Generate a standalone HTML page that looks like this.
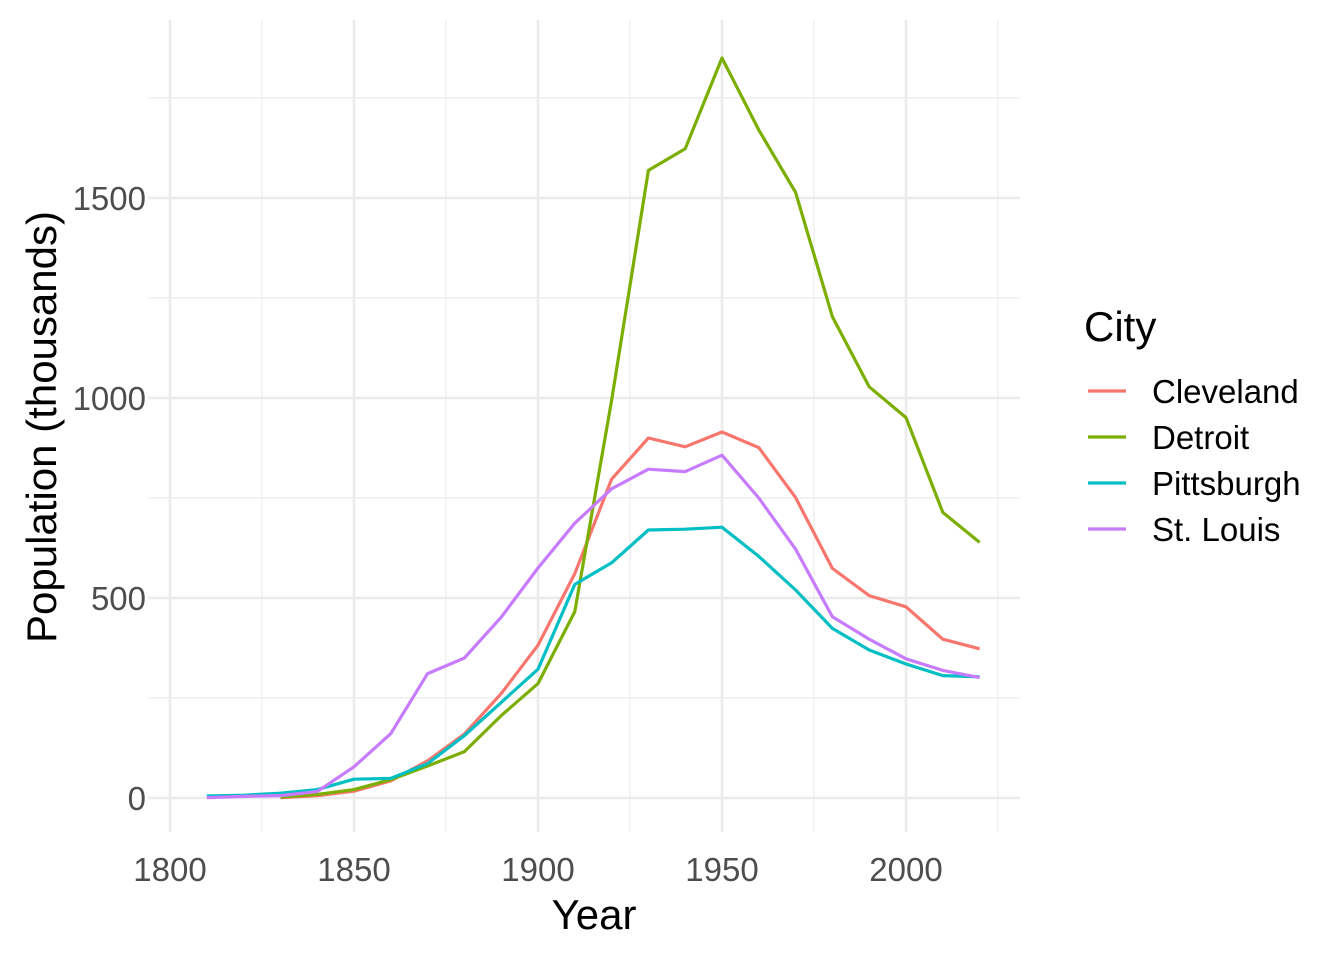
<!DOCTYPE html>
<html><head><style>body{margin:0;background:#fff}svg{display:block}text{font-family:"Liberation Sans",Arial,sans-serif}</style></head>
<body>
<svg width="1344" height="960" xmlns="http://www.w3.org/2000/svg">
<g stroke="#ebebeb" stroke-width="1.2">
<line x1="262" y1="20" x2="262" y2="832"/><line x1="446" y1="20" x2="446" y2="832"/><line x1="630" y1="20" x2="630" y2="832"/><line x1="814" y1="20" x2="814" y2="832"/><line x1="998" y1="20" x2="998" y2="832"/>
<line x1="148" y1="698" x2="1020" y2="698"/><line x1="148" y1="498" x2="1020" y2="498"/><line x1="148" y1="298" x2="1020" y2="298"/><line x1="148" y1="98" x2="1020" y2="98"/>
</g>
<g stroke="#ebebeb" stroke-width="2.6">
<line x1="170" y1="20" x2="170" y2="832"/><line x1="354" y1="20" x2="354" y2="832"/><line x1="538" y1="20" x2="538" y2="832"/><line x1="722" y1="20" x2="722" y2="832"/><line x1="906" y1="20" x2="906" y2="832"/>
<line x1="148" y1="798" x2="1020" y2="798"/><line x1="148" y1="598" x2="1020" y2="598"/><line x1="148" y1="398" x2="1020" y2="398"/><line x1="148" y1="198" x2="1020" y2="198"/>
</g>
<g fill="none" stroke-width="3.2" stroke-linejoin="round">
<polyline stroke="#F8766D" points="280.4,797.6 317.2,795.6 354,791.2 390.8,780.8 427.6,760.8 464.4,734 501.2,693.6 538,645.2 574.8,573.6 611.6,479.2 648.4,438 685.2,446.8 722,432 758.8,447.6 795.6,497.6 832.4,568.4 869.2,595.6 906,606.8 942.8,639.2 979.6,648.8"/>
<polyline stroke="#7CAE00" points="280.4,797.2 317.2,794.4 354,789.6 390.8,779.6 427.6,766 464.4,751.6 501.2,715.6 538,683.6 574.8,611.6 611.6,400.4 648.4,170.4 685.2,148.8 722,58 758.8,130 795.6,192.4 832.4,316.8 869.2,386.8 906,417.6 942.8,512.4 979.6,542.4"/>
<polyline stroke="#00BFC4" points="206.8,796 243.6,795.2 280.4,793.2 317.2,789.6 354,779.2 390.8,778.4 427.6,763.6 464.4,735.6 501.2,702.4 538,669.2 574.8,584.4 611.6,562.8 648.4,530 685.2,529.2 722,527.2 758.8,556.4 795.6,590 832.4,628.4 869.2,650 906,664 942.8,675.6 979.6,676.8"/>
<polyline stroke="#C77CFF" points="206.8,797.6 243.6,796.4 280.4,795.6 317.2,791.6 354,766.8 390.8,733.6 427.6,673.6 464.4,658 501.2,617.2 538,568 574.8,523.2 611.6,488.8 648.4,469.2 685.2,471.6 722,455.2 758.8,498 795.6,549.2 832.4,616.8 869.2,639.2 906,658.8 942.8,670.4 979.6,677.6"/>
</g>
<g fill="#4d4d4d" font-size="33">
<text x="170" y="881" text-anchor="middle">1800</text><text x="354" y="881" text-anchor="middle">1850</text><text x="538" y="881" text-anchor="middle">1900</text><text x="722" y="881" text-anchor="middle">1950</text><text x="906" y="881" text-anchor="middle">2000</text>
<text x="146" y="810" text-anchor="end">0</text><text x="146" y="610" text-anchor="end">500</text><text x="146" y="410" text-anchor="end">1000</text><text x="146" y="210" text-anchor="end">1500</text>
</g>
<text x="594" y="929" text-anchor="middle" font-size="42">Year</text>
<text transform="translate(56,427) rotate(-90)" text-anchor="middle" font-size="42">Population (thousands)</text>
<text x="1084" y="341" font-size="42">City</text>
<g stroke-width="3.2">
<line x1="1088" y1="391" x2="1126" y2="391" stroke="#F8766D"/>
<line x1="1088" y1="437" x2="1126" y2="437" stroke="#7CAE00"/>
<line x1="1088" y1="483" x2="1126" y2="483" stroke="#00BFC4"/>
<line x1="1088" y1="529" x2="1126" y2="529" stroke="#C77CFF"/>
</g>
<g font-size="33">
<text x="1152" y="403">Cleveland</text><text x="1152" y="449">Detroit</text><text x="1152" y="495">Pittsburgh</text><text x="1152" y="541">St. Louis</text>
</g>
</svg>
</body></html>
